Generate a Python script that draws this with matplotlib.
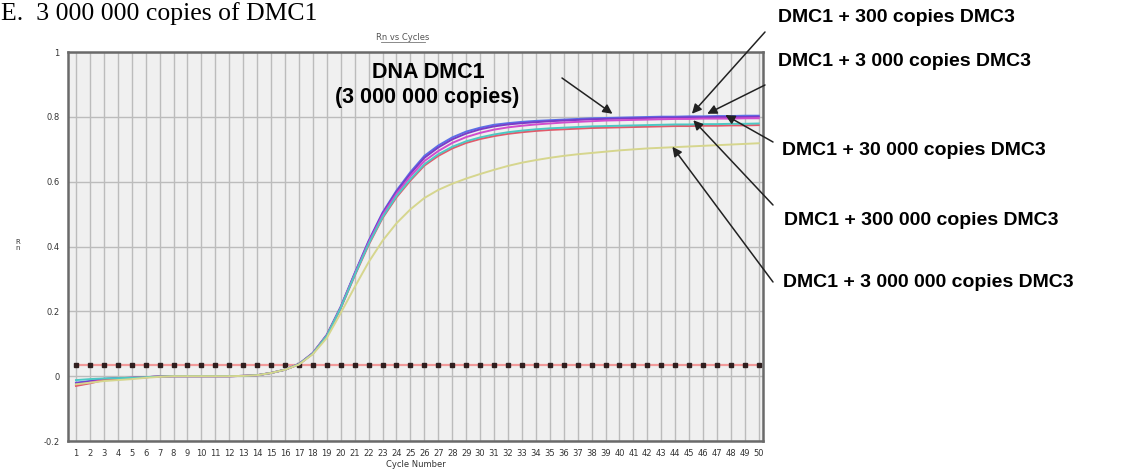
import matplotlib.pyplot as plt
from matplotlib.lines import Line2D

cycles = list(range(1, 51))

# Rn values
dna_dmc1 = [-0.020, -0.015, -0.008, -0.006, -0.005, -0.003, -0.001, 0.000, 0.000, 0.000,
            0.000, 0.000, 0.001, 0.003, 0.010, 0.020, 0.038, 0.072, 0.128, 0.215,
            0.318, 0.418, 0.505, 0.573, 0.630, 0.680, 0.712, 0.737, 0.755, 0.767,
            0.776, 0.781, 0.785, 0.788, 0.790, 0.792, 0.794, 0.796, 0.797, 0.798,
            0.799, 0.800, 0.801, 0.801, 0.802, 0.802, 0.803, 0.803, 0.804, 0.804]
dmc3_300 = [-0.022, -0.016, -0.009, -0.006, -0.005, -0.003, -0.001, 0.000, 0.000, 0.000,
            0.000, 0.000, 0.001, 0.003, 0.010, 0.020, 0.037, 0.071, 0.127, 0.213,
            0.316, 0.415, 0.502, 0.569, 0.625, 0.674, 0.706, 0.731, 0.749, 0.762,
            0.771, 0.777, 0.781, 0.784, 0.787, 0.789, 0.791, 0.793, 0.794, 0.795,
            0.796, 0.797, 0.798, 0.798, 0.799, 0.799, 0.800, 0.800, 0.800, 0.801]
dmc3_3000 = [-0.028, -0.020, -0.011, -0.007, -0.005, -0.003, -0.001, 0.000, 0.000, 0.000,
             0.000, 0.000, 0.001, 0.003, 0.010, 0.020, 0.037, 0.071, 0.126, 0.212,
             0.314, 0.412, 0.497, 0.563, 0.617, 0.664, 0.695, 0.720, 0.738, 0.751,
             0.761, 0.768, 0.773, 0.777, 0.780, 0.783, 0.785, 0.787, 0.789, 0.790,
             0.791, 0.792, 0.793, 0.794, 0.794, 0.795, 0.795, 0.795, 0.796, 0.796]
dmc3_30000 = [-0.030, -0.022, -0.012, -0.008, -0.005, -0.003, -0.001, 0.000, 0.000, 0.000,
              0.000, 0.000, 0.001, 0.003, 0.010, 0.020, 0.037, 0.070, 0.125, 0.210,
              0.310, 0.405, 0.488, 0.552, 0.604, 0.650, 0.680, 0.703, 0.720, 0.732,
              0.741, 0.748, 0.753, 0.757, 0.760, 0.762, 0.764, 0.766, 0.767, 0.768,
              0.769, 0.770, 0.771, 0.772, 0.772, 0.773, 0.773, 0.774, 0.774, 0.775]
dmc3_300000 = [-0.012, -0.009, -0.007, -0.006, -0.005, -0.003, -0.001, 0.000, 0.000, 0.000,
               0.000, 0.000, 0.001, 0.003, 0.010, 0.020, 0.037, 0.070, 0.125, 0.211,
               0.312, 0.408, 0.491, 0.556, 0.608, 0.654, 0.685, 0.708, 0.725, 0.737,
               0.746, 0.753, 0.758, 0.762, 0.765, 0.767, 0.769, 0.771, 0.772, 0.773,
               0.774, 0.775, 0.776, 0.777, 0.777, 0.778, 0.778, 0.779, 0.779, 0.780]
dmc3_3000000 = [-0.025, -0.020, -0.015, -0.012, -0.009, -0.005, -0.002, 0.000, 0.000, 0.000,
                0.000, 0.000, 0.001, 0.003, 0.010, 0.020, 0.036, 0.068, 0.118, 0.195,
                0.275, 0.352, 0.418, 0.472, 0.515, 0.550, 0.575, 0.594, 0.610, 0.624,
                0.637, 0.649, 0.659, 0.667, 0.674, 0.680, 0.685, 0.689, 0.693, 0.697,
                0.700, 0.703, 0.705, 0.707, 0.709, 0.711, 0.713, 0.715, 0.717, 0.719]
threshold = 0.034

series = [dna_dmc1, dmc3_300, dmc3_3000, dmc3_30000, dmc3_300000, dmc3_3000000]
colors = ['#5b6fe6', '#7a3cc8', '#d24ccc', '#e25a6a', '#4cc9c4', '#d6d68e']

y_ticks = [-0.2, 0, 0.2, 0.4, 0.6, 0.8, 1]
y_tick_labels = ['-0.2', '0', '0.2', '0.4', '0.6', '0.8', '1']

fig = plt.figure(figsize=(11.3, 4.69), dpi=100)
ax = fig.add_axes([0.0602, 0.0597, 0.615, 0.829])
ax.set_facecolor('#f0f0f0')

ax.set_xlim(0.43, 50.3)
ax.set_ylim(-0.2, 1.0)
ax.set_xticks(cycles)
ax.set_xticklabels([str(c) for c in cycles], fontsize=6, color='#333333')
ax.set_yticks(y_ticks)
ax.set_yticklabels(y_tick_labels, fontsize=6, color='#333333')
ax.tick_params(length=0, pad=6)
ax.grid(True, color='#bcbcbc', linewidth=1.0)
ax.set_axisbelow(True)
for sp in ax.spines.values():
    sp.set_color('#6a6a6a')
    sp.set_linewidth(1.8)

# threshold line
ax.plot(cycles, [threshold] * len(cycles), color='#f29a9a', linewidth=1.6,
        marker='s', markersize=2.4, markerfacecolor='#302020',
        markeredgecolor='#302020', zorder=3)

for vals, c in zip(series, colors):
    ax.plot(cycles, vals, color=c, linewidth=1.4, zorder=4)

ax.set_xlabel('Cycle Number', fontsize=6, color='#333333', labelpad=1)
fig.text(18 / 1130, 1 - 245 / 469, 'R\nn', fontsize=5, color='#333333',
         ha='center', va='center', linespacing=1.2)

# chart title (small, underlined)
fig.text(403 / 1130, 1 - 37 / 469, 'Rn vs Cycles', fontsize=6, color='#555555',
         ha='center', va='center')
fig.add_artist(Line2D([381 / 1130, 425 / 1130], [1 - 42 / 469, 1 - 42 / 469],
                      color='#777777', linewidth=0.6))

# panel title
fig.text(1 / 1130, 1 - 20 / 469, 'E.  3 000 000 copies of DMC1',
         fontsize=18.5, family='Liberation Serif', ha='left', va='baseline')

bold = dict(family='Liberation Sans', fontweight='bold', color='black')
fig.text(428 / 1130, 1 - 72 / 469, 'DNA DMC1', fontsize=15.5, ha='center', va='center', **bold)
fig.text(427 / 1130, 1 - 98 / 469, '(3 000 000 copies)', fontsize=15.5, ha='center', va='center', **bold)

labels = ['DMC1 + 300 copies DMC3', 'DMC1 + 3 000 copies DMC3', 'DMC1 + 30 000 copies DMC3',
          'DMC1 + 300 000 copies DMC3', 'DMC1 + 3 000 000 copies DMC3']
label_pos = [(778, 18), (778, 62), (782, 150), (784, 220), (783, 282)]
for lab, (px, py) in zip(labels, label_pos):
    fig.text(px / 1130, 1 - py / 469, lab, fontsize=14, ha='left', va='center', **bold)

# arrows: (tip in data coords, tail in figure pixels from top-left)
arrows = [((39.5, 0.81), (562, 78)),
          ((45.2, 0.81), (765, 32)),
          ((46.3, 0.81), (765, 85)),
          ((47.6, 0.806), (773, 142)),
          ((45.3, 0.79), (773, 205)),
          ((43.8, 0.708), (773, 282))]
for tip, (tx, ty) in arrows:
    ax.annotate('', xy=tip, xycoords='data',
                xytext=(tx / 1130, 1 - ty / 469), textcoords='figure fraction',
                arrowprops=dict(arrowstyle='-|>', color='#222222', lw=1.1,
                                mutation_scale=14, shrinkA=0, shrinkB=0),
                annotation_clip=False, zorder=6)

fig.savefig('out.png', dpi=100)
